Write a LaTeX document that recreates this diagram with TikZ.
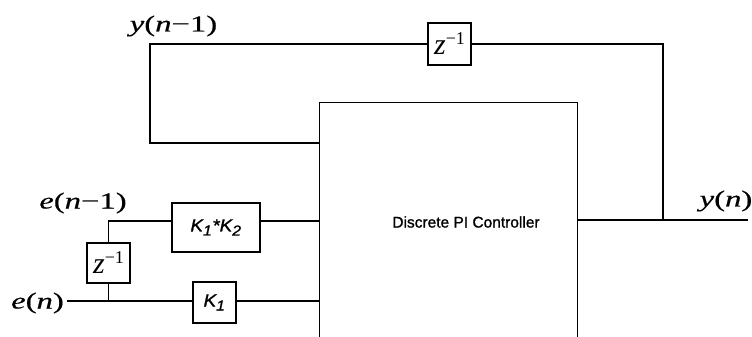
\documentclass[tikz,border=0pt]{standalone}
\usepackage{fontspec}
\setmainfont{Liberation Serif}
\setsansfont{Liberation Sans}
\newfontfamily\heavysans[FakeBold=1.2]{Liberation Sans}
\newfontfamily\heavyserif[FakeBold=0.4]{Liberation Serif}
\newcommand{\zinv}{{\fontsize{30}{30}\selectfont\itshape z}\raisebox{10pt}{\fontsize{18}{18}\selectfont −1}}
\newcommand{\sigtxt}[1]{\scalebox{1.42}[1]{#1}}
\newcommand{\Ksub}[1]{K\textsubscript{\fontsize{14.5}{14.5}\selectfont #1}}
\begin{document}
\begin{tikzpicture}[x=1pt,y=-1pt,
  wire/.style={line width=1.2pt},
  blk/.style={draw,line width=1.2pt,rectangle,inner sep=0pt,anchor=center},
  sig/.style={inner sep=0pt,font=\heavyserif\fontsize{23}{28}\selectfont},
  gain/.style={font=\heavysans\itshape\fontsize{17.5}{20}\selectfont}]
\useasboundingbox (0,0) rectangle (752,337);
% main controller box (open at bottom)
\node[minimum width=257pt,minimum height=234pt,inner sep=0pt] (pi) at (448.5,220) {};
\draw[wire] (pi.south west) -- (pi.north west) -- (pi.north east) -- (pi.south east);
\node[font=\heavysans\fontsize{15.5}{18}\selectfont] (pitxt) at (466,222) {Discrete PI Controller};
% top delay
\node[blk,minimum width=43pt,minimum height=42pt] (z1) at (449.5,44) {\zinv};
\coordinate (tl) at (150,44);
\coordinate (bl) at (150,143);
\coordinate (tr) at (663,44);
\coordinate (tj) at (663,220);
\coordinate (out) at (748,220);
\draw[wire] (pi.west |- bl) -- (bl) -- (tl) -- (z1.west);
\draw[wire] (z1.east) -- (tr) -- (tj);
\draw[wire] (pi.east |- tj) -- (out);
% input side
\node[blk,minimum width=88pt,minimum height=49pt,gain] (k12) at (216,227.5) {\scalebox{1.08}[1]{\Ksub{1}*\Ksub{2}}};
\node[blk,minimum width=43pt,minimum height=40pt] (z2) at (108.5,263) {\zinv};
\node[blk,minimum width=43pt,minimum height=41pt,gain] (k1) at (214.5,302.5) {\scalebox{1.08}[1]{\Ksub{1}}};
\coordinate (ej) at (108.5,221);
\coordinate (ek) at (108.5,301);
\coordinate (in) at (67,301);
\draw[wire] (z2.north) -- (ej) -- (ej -| k12.west);
\draw[wire] (k12.east |- ej) -- (pi.west |- ej);
\draw[wire] (z2.south) -- (ek);
\draw[wire] (in) -- (in -| k1.west);
\draw[wire] (k1.east |- in) -- (pi.west |- in);
% signal labels
\node[sig] (yn1) at (173.5,26) {\sigtxt{\textit{y}(\textit{n}−1)}};
\node[sig] (yn) at (726,201) {\sigtxt{\textit{y}(\textit{n})}};
\node[sig] (en1) at (83,203) {\sigtxt{\textit{e}(\textit{n}−1)}};
\node[sig] (en) at (37.5,303) {\sigtxt{\textit{e}(\textit{n})}};
\end{tikzpicture}
\end{document}
